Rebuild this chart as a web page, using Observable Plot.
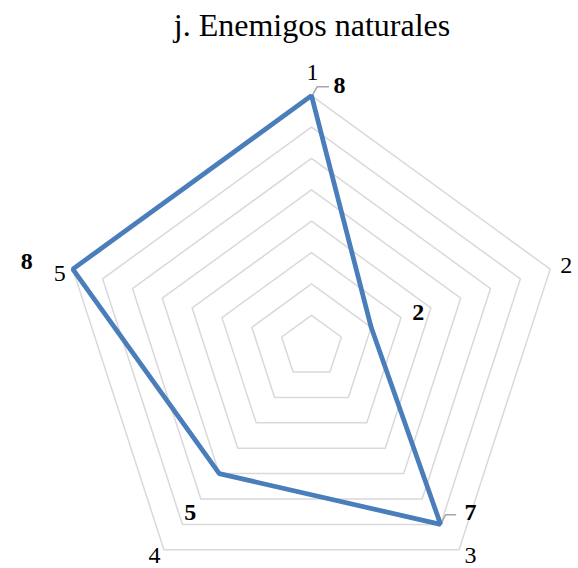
<!DOCTYPE html>
<html>
<head>
<meta charset="utf-8">
<script src="https://cdn.jsdelivr.net/npm/d3@7"></script>
<script src="https://cdn.jsdelivr.net/npm/@observablehq/plot@0.6"></script>
<style>
  body { margin: 0; background: #fff; }
  #title {
    font-family: "Liberation Serif", "Times New Roman", serif;
    font-size: 32px;
    line-height: 1.107;
    width: 578px;
    height: 50px;
    box-sizing: border-box;
    padding-top: 8px;
    padding-left: 46px;
    text-align: center;
    color: #000;
  }
</style>
</head>
<body>
<div id="title">j. Enemigos naturales</div>
<div id="chart"></div>
<script>
// Radar axes (clockwise from the top), the plotted series and the grid levels
const axisNames = ["1", "2", "3", "4", "5"];
const values = [8, 2, 7, 5, 8];
const valueLabels = ["8", "2", "7", "5", "8"];
const levels = [1, 2, 3, 4, 5, 6, 7, 8];

// Layout (pixels)
const W = 578, H = 518;
const cx = 311, cy = 296.2;   // centre of the radar in the svg
const k = 31.375;             // pixels per unit of value

// Pixel nudges for the axis names and the value labels
const nameOffset = [[1, -23], [16, -3.5], [11.5, 6], [-9.5, 6], [-13, 4.5]];
const valueOffset = [[28, -10], [47, -15], [30, -12], [-29, 39], [-46, -8]];
// Short leader lines for the labels of axes 1 and 3
const leaders = {0: [[0.7, 0], [5.7, -9], [17, -9]], 2: [[0.6, -0.6], [5, -9.6], [15, -9.6]]};

const n = axisNames.length;
const pt = (i, r) => {
  const a = 2 * Math.PI * i / n;
  return [r * Math.sin(a), r * Math.cos(a)];
};
const nudge = ([x, y], [dx, dy]) => [x + dx / k, y - dy / k];

const rings = levels.flatMap(level =>
  axisNames.map((_, i) => { const [x, y] = pt(i, level); return {level, x, y}; }));

const series = values.map((v, i) => { const [x, y] = pt(i, v); return {axis: axisNames[i], x, y}; });

const maxLevel = d3.max(levels);
const names = axisNames.map((name, i) => {
  const [x, y] = nudge(pt(i, maxLevel), nameOffset[i]);
  return {name, x, y};
});

const valueText = values.map((v, i) => {
  const [x, y] = nudge(pt(i, v), valueOffset[i]);
  return {label: valueLabels[i], x, y};
});

const leaderLines = Object.entries(leaders).flatMap(([i, segs]) =>
  segs.map(o => { const [x, y] = nudge(pt(+i, values[+i]), o); return {id: i, x, y}; }));

const chart = Plot.plot({
  width: W,
  height: H,
  margin: 0,
  x: {domain: [-cx / k, (W - cx) / k], axis: null},
  y: {domain: [-(H - cy) / k, cy / k], axis: null},
  style: {fontFamily: "'Liberation Serif', 'Times New Roman', serif", background: "#fff"},
  marks: [
    Plot.line(rings, {x: "x", y: "y", z: "level", curve: "linear-closed",
      stroke: "#d9d9d9", strokeWidth: 1.5}),
    Plot.line(leaderLines, {x: "x", y: "y", z: "id", stroke: "#a6a6a6", strokeWidth: 1.5}),
    Plot.line(series, {x: "x", y: "y", curve: "linear-closed",
      stroke: "#4a7ebb", strokeWidth: 4.75, strokeLinejoin: "miter"}),
    Plot.text(names, {x: "x", y: "y", text: "name", fontSize: 24, fill: "#000"}),
    Plot.text(valueText, {x: "x", y: "y", text: "label", fontSize: 24,
      fontWeight: "bold", fill: "#000"})
  ]
});
document.getElementById("chart").append(chart);
</script>
</body>
</html>
